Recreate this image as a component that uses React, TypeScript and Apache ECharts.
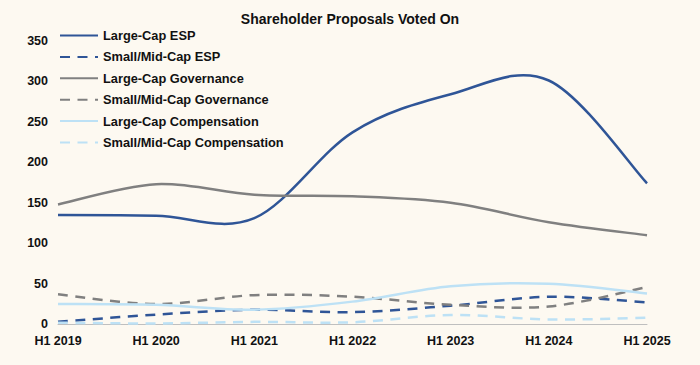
import React, { useEffect, useRef } from "react";
import * as echarts from "echarts";

const categories = ["H1 2019", "H1 2020", "H1 2021", "H1 2022", "H1 2023", "H1 2024", "H1 2025"];
const largeCapEsp = [135, 134, 131, 237, 284, 301, 174];
const smallMidCapEsp = [3, 12, 18, 15, 23, 34, 27];
const largeCapGov = [148, 173, 160, 158, 150, 126, 110];
const smallMidCapGov = [37, 25, 36, 34, 24, 22, 46];
const largeCapComp = [25, 24, 18, 28, 47, 50, 38];
const smallMidCapComp = [2, 1, 3, 2.5, 11.5, 6, 8];
const yTicks = { min: 0, max: 350, interval: 50 };

const DARK_BLUE = "#2F5597";
const GRAY = "#808080";
const LIGHT_BLUE = "#BDE1F5";
const FONT = "'Liberation Sans', Arial, sans-serif";
const DASH = [10, 7.5];
const LW = 2.5;

const seriesDefs = [
  { name: "Large-Cap ESP", data: largeCapEsp, color: DARK_BLUE, dashed: false },
  { name: "Small/Mid-Cap ESP", data: smallMidCapEsp, color: DARK_BLUE, dashed: true },
  { name: "Large-Cap Governance", data: largeCapGov, color: GRAY, dashed: false },
  { name: "Small/Mid-Cap Governance", data: smallMidCapGov, color: GRAY, dashed: true },
  { name: "Large-Cap Compensation", data: largeCapComp, color: LIGHT_BLUE, dashed: false },
  { name: "Small/Mid-Cap Compensation", data: smallMidCapComp, color: LIGHT_BLUE, dashed: true },
];

// Legend carrier: invisible line series (legend inherits its dash style)
function legendSeries(d: any) {
  return {
    name: d.name,
    type: "line",
    data: d.data,
    symbol: "none",
    silent: true,
    lineStyle: { color: d.color, width: LW, type: d.dashed ? DASH : "solid", opacity: 0 },
    itemStyle: { color: d.color },
  };
}

// Excel-style smoothed curve (Catmull-Rom → Bezier) drawn through the axes' scales
function curveSeries(d: any) {
  const values: number[] = d.data;
  return {
    name: d.name + " curve",
    type: "custom",
    coordinateSystem: "cartesian2d",
    data: values.map((v, i) => [i, v]),
    encode: { x: 0, y: 1 },
    silent: true,
    z: 3,
    renderItem: (params: any, api: any) => {
      if (params.dataIndex !== 0) return null;
      const pts = values.map((v, i) => api.coord([i, v]));
      const n = pts.length;
      let p = `M${pts[0][0]},${pts[0][1]}`;
      for (let i = 0; i < n - 1; i++) {
        const p0 = pts[Math.max(i - 1, 0)];
        const p1 = pts[i];
        const p2 = pts[i + 1];
        const p3 = pts[Math.min(i + 2, n - 1)];
        const c1x = p1[0] + (p2[0] - p0[0]) / 6;
        const c1y = p1[1] + (p2[1] - p0[1]) / 6;
        const c2x = p2[0] - (p3[0] - p1[0]) / 6;
        const c2y = p2[1] - (p3[1] - p1[1]) / 6;
        p += ` C${c1x},${c1y} ${c2x},${c2y} ${p2[0]},${p2[1]}`;
      }
      return {
        type: "path",
        shape: { pathData: p },
        style: {
          fill: "none",
          stroke: d.color,
          lineWidth: LW,
          lineDash: d.dashed ? DASH : null,
          lineCap: "butt",
          lineJoin: "round",
        },
      };
    },
  };
}

export default function App() {
  const ref = useRef<HTMLDivElement>(null);
  useEffect(() => {
    if (!ref.current) return;
    const chart = echarts.init(ref.current, null, { renderer: "svg" });
    chart.setOption({
      animation: false,
      backgroundColor: "#FDF9F1",
      title: {
        text: "Shareholder Proposals Voted On",
        left: "center",
        top: 7,
        textStyle: { fontFamily: FONT, fontSize: 14, fontWeight: "bold", color: "#111" },
      },
      legend: {
        orient: "vertical",
        left: 59,
        top: 29,
        padding: 0,
        itemWidth: 38,
        itemHeight: 14,
        itemGap: 8.4,
        itemStyle: { opacity: 0 },
        lineStyle: { opacity: 1 },
        textStyle: { fontFamily: FONT, fontSize: 12.8, fontWeight: "bold", color: "#111" },
        data: seriesDefs.map((d) => d.name),
      },
      grid: { left: 58, right: 53, top: 40.8, bottom: 40.7, containLabel: false },
      xAxis: {
        type: "category",
        data: categories,
        boundaryGap: false,
        axisLine: { show: true, lineStyle: { color: "#BFBFBF", width: 1 } },
        axisTick: { show: false },
        axisLabel: {
          margin: 10,
          fontFamily: FONT,
          fontSize: 12.5,
          fontWeight: "bold",
          color: "#111",
        },
        splitLine: { show: false },
      },
      yAxis: {
        type: "value",
        min: yTicks.min,
        max: yTicks.max,
        interval: yTicks.interval,
        axisLine: { show: false },
        axisTick: { show: false },
        splitLine: { show: false },
        axisLabel: {
          margin: 10,
          fontFamily: FONT,
          fontSize: 12.5,
          fontWeight: "bold",
          color: "#111",
        },
      },
      series: [...seriesDefs.map(legendSeries), ...seriesDefs.map(curveSeries)],
    });
    return () => chart.dispose();
  }, []);
  return <div ref={ref} style={{ width: 700, height: 365, position: "absolute", left: 0, top: 0 }} />;
}
